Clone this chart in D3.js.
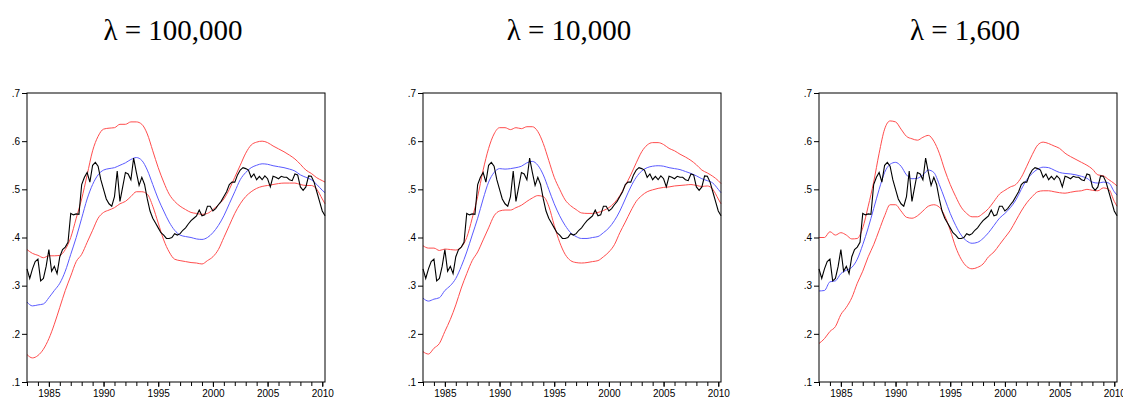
<!DOCTYPE html>
<html>
<head>
<meta charset="utf-8">
<style>
body { margin: 0; background: #fff; }
.title { font: 29px "Liberation Serif", "Times New Roman", serif; text-anchor: middle; }
.axis text { font: 10px "Liberation Sans", Arial, sans-serif; fill: #000; }
.axis path, .axis line { stroke: #000; fill: none; }
.frame { fill: none; stroke: #000; stroke-width: 1; }
</style>
</head>
<body>
<svg id="chart" width="1123" height="402"></svg>
<script src="https://d3js.org/d3.v7.min.js"></script>
<script>

// actual series, quarterly 1983Q1 - 2010Q2 (same in all panels)
var actual = [
  0.335, 0.315, 0.335, 0.350,
  0.355, 0.310, 0.315, 0.340,
  0.375, 0.330, 0.340, 0.325,
  0.360, 0.375, 0.380, 0.390,
  0.450, 0.447, 0.449, 0.448,
  0.510, 0.525, 0.535, 0.515,
  0.550, 0.556, 0.548, 0.520,
  0.500, 0.480, 0.470, 0.465,
  0.485, 0.538, 0.475, 0.505,
  0.535, 0.532, 0.520, 0.565,
  0.535, 0.508, 0.525, 0.510,
  0.480, 0.455, 0.440, 0.430,
  0.420, 0.410, 0.405, 0.398,
  0.398, 0.400, 0.408, 0.405,
  0.408, 0.415, 0.420, 0.428,
  0.435, 0.440, 0.445, 0.457,
  0.445, 0.447, 0.465, 0.465,
  0.455, 0.460, 0.468, 0.475,
  0.485, 0.495, 0.510, 0.515,
  0.515, 0.530, 0.540, 0.545,
  0.543, 0.540, 0.525, 0.532,
  0.520, 0.527, 0.520, 0.528,
  0.522, 0.505, 0.527, 0.525,
  0.522, 0.527, 0.525, 0.525,
  0.520, 0.518, 0.532, 0.530,
  0.505, 0.498, 0.505, 0.528,
  0.527, 0.515, 0.495, 0.475,
  0.455, 0.445
];

// trend and bands, half-yearly 1983.0 - 2010.0 plus 2010.25
var halfYears = [];
for (var yr = 1983; yr <= 2010; yr += 0.5) halfYears.push(yr);
halfYears.push(2010.25);

var titles = ["\u03bb = 100,000", "\u03bb = 10,000", "\u03bb = 1,600"];

var trend1 = [0.266,0.258,0.260,0.262,0.275,0.290,0.305,0.330,0.365,0.400,0.440,0.480,0.510,0.530,0.540,0.543,0.545,0.550,0.555,0.562,0.566,0.560,0.540,0.510,0.480,0.455,0.432,0.415,0.405,0.402,0.400,0.397,0.396,0.400,0.410,0.425,0.445,0.470,0.495,0.520,0.535,0.545,0.550,0.553,0.552,0.549,0.547,0.545,0.542,0.538,0.530,0.525,0.520,0.510,0.498,0.493];
var upper1 = [0.375,0.367,0.363,0.358,0.362,0.362,0.363,0.375,0.400,0.440,0.480,0.530,0.580,0.610,0.625,0.627,0.628,0.635,0.635,0.640,0.640,0.635,0.615,0.580,0.545,0.515,0.490,0.475,0.465,0.458,0.452,0.450,0.448,0.450,0.458,0.468,0.480,0.500,0.525,0.550,0.575,0.592,0.598,0.600,0.597,0.590,0.584,0.578,0.571,0.563,0.552,0.540,0.533,0.524,0.518,0.515];
var lower1 = [0.157,0.150,0.155,0.168,0.190,0.220,0.255,0.290,0.320,0.350,0.365,0.390,0.415,0.440,0.452,0.457,0.462,0.470,0.475,0.485,0.495,0.495,0.490,0.465,0.430,0.395,0.370,0.355,0.352,0.350,0.348,0.347,0.345,0.352,0.360,0.375,0.400,0.425,0.450,0.470,0.485,0.495,0.502,0.506,0.508,0.510,0.512,0.513,0.513,0.513,0.510,0.508,0.508,0.500,0.480,0.470];

var trend2 = [0.274,0.268,0.272,0.275,0.290,0.300,0.315,0.340,0.370,0.405,0.440,0.480,0.515,0.535,0.543,0.542,0.543,0.545,0.548,0.555,0.558,0.550,0.530,0.500,0.470,0.445,0.425,0.410,0.402,0.398,0.398,0.400,0.402,0.410,0.420,0.435,0.455,0.480,0.505,0.525,0.538,0.545,0.548,0.549,0.548,0.545,0.543,0.541,0.537,0.533,0.528,0.522,0.518,0.513,0.500,0.493];
var upper2 = [0.383,0.378,0.378,0.373,0.376,0.375,0.374,0.380,0.400,0.440,0.485,0.540,0.585,0.615,0.628,0.628,0.624,0.628,0.626,0.630,0.630,0.620,0.595,0.560,0.525,0.500,0.478,0.466,0.458,0.451,0.450,0.450,0.452,0.456,0.462,0.472,0.487,0.508,0.530,0.555,0.578,0.592,0.597,0.597,0.593,0.585,0.580,0.573,0.567,0.560,0.551,0.540,0.534,0.527,0.518,0.512];
var lower2 = [0.163,0.158,0.170,0.180,0.205,0.230,0.260,0.295,0.325,0.352,0.370,0.395,0.420,0.445,0.455,0.457,0.457,0.462,0.467,0.475,0.482,0.487,0.485,0.465,0.425,0.390,0.365,0.352,0.348,0.347,0.348,0.350,0.352,0.360,0.370,0.385,0.410,0.432,0.455,0.475,0.487,0.495,0.499,0.502,0.504,0.505,0.507,0.508,0.509,0.510,0.508,0.506,0.507,0.500,0.480,0.470];

var trend3 = [0.289,0.290,0.308,0.310,0.325,0.332,0.338,0.355,0.385,0.420,0.460,0.500,0.535,0.552,0.556,0.548,0.530,0.522,0.523,0.530,0.540,0.535,0.510,0.480,0.450,0.425,0.405,0.393,0.388,0.390,0.398,0.410,0.425,0.440,0.450,0.462,0.478,0.500,0.520,0.533,0.542,0.546,0.545,0.540,0.535,0.533,0.532,0.530,0.527,0.523,0.515,0.513,0.515,0.513,0.495,0.488];
var upper3 = [0.400,0.400,0.412,0.405,0.410,0.405,0.397,0.398,0.420,0.465,0.515,0.575,0.625,0.642,0.640,0.625,0.610,0.605,0.602,0.608,0.612,0.600,0.575,0.540,0.510,0.485,0.463,0.450,0.443,0.443,0.450,0.460,0.475,0.490,0.498,0.505,0.510,0.525,0.548,0.572,0.592,0.598,0.595,0.590,0.585,0.575,0.568,0.562,0.556,0.550,0.542,0.530,0.528,0.520,0.512,0.507];
var lower3 = [0.180,0.190,0.205,0.215,0.240,0.255,0.275,0.305,0.330,0.360,0.385,0.415,0.445,0.468,0.468,0.455,0.442,0.440,0.445,0.455,0.465,0.468,0.463,0.445,0.415,0.380,0.355,0.340,0.335,0.338,0.345,0.360,0.370,0.385,0.400,0.415,0.435,0.455,0.472,0.485,0.495,0.497,0.497,0.495,0.493,0.492,0.494,0.496,0.497,0.500,0.498,0.497,0.503,0.500,0.475,0.465];

var panels = [
  { title: titles[0], left: 27,  trend: trend1, upper: upper1, lower: lower1 },
  { title: titles[1], left: 423, trend: trend2, upper: upper2, lower: lower2 },
  { title: titles[2], left: 819, trend: trend3, upper: upper3, lower: lower3 }
];

var yTicks = [0.1, 0.2, 0.3, 0.4, 0.5, 0.6, 0.7];
var xLabels = [1985, 1990, 1995, 2000, 2005, 2010];
var pw = 298, yTop = 93, yBottom = 382;

var svg = d3.select("#chart");
var quarters = actual.map((d, i) => 1983 + i / 4);

panels.forEach(function(p) {
  var x = d3.scaleLinear().domain([1983, 2010.25]).range([p.left, p.left + pw]);
  var yS = d3.scaleLinear().domain([0.1, 0.7]).range([yBottom, yTop]);

  svg.append("text").attr("class", "title")
    .attr("x", p.left + pw / 2 - 3).attr("y", 40).text(p.title);

  var line = d3.line().x(d => x(d[0])).y(d => yS(d[1])).curve(d3.curveMonotoneX);

  [[p.upper, "#ff4d4d"], [p.lower, "#ff4d4d"], [p.trend, "#5a5aff"]].forEach(function(s) {
    svg.append("path")
      .datum(halfYears.map((t, i) => [t, s[0][i]]))
      .attr("d", line)
      .attr("fill", "none").attr("stroke", s[1]).attr("stroke-width", 1);
  });

  svg.append("path")
    .datum(quarters.map((t, i) => [t, actual[i]]))
    .attr("d", d3.line().x(d => x(d[0])).y(d => yS(d[1])))
    .attr("fill", "none").attr("stroke", "#000").attr("stroke-width", 1.1);

  svg.append("rect").attr("class", "frame")
    .attr("x", p.left).attr("y", yTop).attr("width", pw).attr("height", yBottom - yTop);

  svg.append("g").attr("class", "axis")
    .attr("transform", `translate(${p.left},0)`)
    .call(d3.axisLeft(yS).tickValues(yTicks).tickSize(5).tickPadding(2)
      .tickFormat(d => d3.format(".1f")(d).replace(/^0/, "")))
    .select(".domain").remove();

  // minor yearly ticks
  svg.append("g").attr("class", "axis")
    .attr("transform", `translate(0,${yBottom})`)
    .call(d3.axisBottom(x).tickValues(d3.range(1983, 2011)).tickSize(4).tickFormat(""))
    .select(".domain").remove();

  svg.append("g").attr("class", "axis")
    .attr("transform", `translate(0,${yBottom})`)
    .call(d3.axisBottom(x).tickValues(xLabels).tickSize(5).tickPadding(3).tickFormat(d3.format("d")))
    .select(".domain").remove();
});

</script>
</body>
</html>
